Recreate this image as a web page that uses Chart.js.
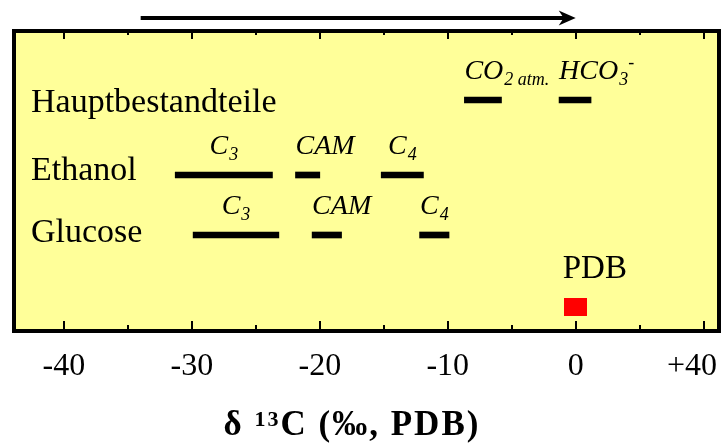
<!DOCTYPE html>
<html>
<head>
<meta charset="utf-8">
<script src="https://cdn.jsdelivr.net/npm/chart.js@4"></script>
<style>
  html, body { margin: 0; padding: 0; background: #fff; }
  #wrap { width: 721px; height: 445px; }
</style>
</head>
<body>
<div id="wrap"><canvas id="c" width="721" height="445"></canvas></div>
<script>
// x axis: delta 13C in permil
const tickValues = [-40, -30, -20, -10, 0, 10];
const tickLabels = ['-40', '-30', '-20', '-10', '0', '+40'];   // last tick is drawn as +40 (axis break)
const xMin = -43.9;
const xMax = 11.2;

// rows
const rowNames = ['Hauptbestandteile', 'Ethanol', 'Glucose'];
const rowLevels = [7.7, 5.2, 3.2];

// ranges (one bar each)
const segRow  = [0, 0, 1, 1, 1, 2, 2, 2];
const segLow  = [-8.7, -1.3, -31.3, -21.9, -15.2, -29.9, -20.6, -12.2];
const segHigh = [-5.8,  1.2, -23.7, -20.0, -11.9, -23.2, -18.3,  -9.9];
// label: [main, subscript, superscript]
const segLabels = [
  ['CO', '2 atm.', ''], ['HCO', '3', '-'],
  ['C', '3', ''], ['CAM', '', ''], ['C', '4', ''],
  ['C', '3', ''], ['CAM', '', ''], ['C', '4', '']
];

// reference standard
const refName = 'PDB';
const refValue = 0;
const refLevel = 0.8;

// arrow above the plot
const arrowFrom = -34;
const arrowTo = 0;

const SERIF = '"Liberation Serif", "Times New Roman", serif';

// red marker as image point style
const marker = document.createElement('canvas');
marker.width = 23; marker.height = 18;
const mctx = marker.getContext('2d');
mctx.fillStyle = '#ff0000';
mctx.fillRect(0, 0, 23, 18);

function richWidth(ctx, parts, big, small, style) {
    ctx.font = style + big + 'px ' + SERIF;
    let w = ctx.measureText(parts[0]).width;
    ctx.font = style + small + 'px ' + SERIF;
    if (parts[1]) w += ctx.measureText(parts[1]).width + 1;
    if (parts[2]) w += ctx.measureText(parts[2]).width;
    return w;
}

function drawRich(ctx, parts, x, y, big, small, style) {
    ctx.textAlign = 'left';
    ctx.textBaseline = 'alphabetic';
    ctx.font = style + big + 'px ' + SERIF;
    ctx.fillText(parts[0], x, y);
    x += ctx.measureText(parts[0]).width;
    ctx.font = style + small + 'px ' + SERIF;
    if (parts[1]) {
        x += 1;
        ctx.fillText(parts[1], x, y + 6);
        x += ctx.measureText(parts[1]).width;
    }
    if (parts[2]) {
        ctx.fillText(parts[2], x, y - 11);
    }
}

const sketchPlugin = {
    id: 'sketch',
    beforeDraw(chart) {
        const { ctx, chartArea: a } = chart;
        ctx.save();
        ctx.fillStyle = '#ffff99';
        ctx.fillRect(a.left, a.top, a.right - a.left, a.bottom - a.top);
        ctx.restore();
    },
    afterDraw(chart) {
        const { ctx, chartArea: a } = chart;
        const xs = chart.scales.x, ys = chart.scales.y;
        ctx.save();

        // frame
        ctx.strokeStyle = '#000';
        ctx.lineWidth = 4;
        ctx.strokeRect(a.left, a.top, a.right - a.left, a.bottom - a.top);

        // inward tick marks, top and bottom
        ctx.lineWidth = 2;
        ctx.beginPath();
        tickValues.forEach((v, i) => {
            const px = Math.round(xs.getPixelForValue(v));
            ctx.moveTo(px, a.bottom); ctx.lineTo(px, a.bottom - 10);
            ctx.moveTo(px, a.top); ctx.lineTo(px, a.top + 8);
            if (i < tickValues.length - 1) {
                const m = Math.round(xs.getPixelForValue((v + tickValues[i + 1]) / 2));
                ctx.moveTo(m, a.bottom); ctx.lineTo(m, a.bottom - 6);
                ctx.moveTo(m, a.top); ctx.lineTo(m, a.top + 4);
            }
        });
        ctx.stroke();

        // tick labels
        ctx.fillStyle = '#000';
        ctx.font = '32px ' + SERIF;
        ctx.textAlign = 'center';
        ctx.textBaseline = 'alphabetic';
        tickLabels.forEach((t, i) => {
            const w = ctx.measureText(t).width;
            let px = xs.getPixelForValue(tickValues[i]);
            px = Math.min(px, chart.width - 4 - w / 2);
            ctx.fillText(t, px, 375);
        });

        // row names
        const nameDy = [12, 5, 7];
        ctx.font = '34px ' + SERIF;
        ctx.textAlign = 'left';
        rowNames.forEach((n, i) => {
            ctx.fillText(n, a.left + 17, ys.getPixelForValue(rowLevels[i]) + nameDy[i]);
        });

        // range labels (C3, CAM, C4, CO2 ...)
        segLabels.forEach((parts, i) => {
            const y = ys.getPixelForValue(rowLevels[segRow[i]]) - 21;
            const x0 = xs.getPixelForValue(segLow[i]);
            const x1 = xs.getPixelForValue(segHigh[i]);
            let x = x0;
            if (parts[0] === 'C') {
                x = (x0 + x1) / 2 - richWidth(ctx, parts, 28, 18, 'italic ') / 2;
            }
            drawRich(ctx, parts, x, y, 28, 18, 'italic ');
        });

        // PDB label
        ctx.font = '33px ' + SERIF;
        ctx.textAlign = 'left';
        ctx.fillText(refName, xs.getPixelForValue(refValue) - 13, ys.getPixelForValue(refLevel) - 29);

        // arrow
        const ax0 = xs.getPixelForValue(arrowFrom), ax1 = xs.getPixelForValue(arrowTo);
        const ay = 18;
        ctx.lineWidth = 4;
        ctx.beginPath();
        ctx.moveTo(ax0, ay); ctx.lineTo(ax1 - 10, ay);
        ctx.stroke();
        ctx.beginPath();
        ctx.moveTo(ax1, ay);
        ctx.lineTo(ax1 - 17, ay - 7.5);
        ctx.lineTo(ax1 - 12, ay);
        ctx.lineTo(ax1 - 17, ay + 7.5);
        ctx.closePath();
        ctx.fill();

        // axis title
        const t1 = '\u03b4 ', t2 = '13', t3 = 'C (\u2030, PDB)';
        ctx.letterSpacing = '2px';
        ctx.font = 'bold 35px ' + SERIF;
        const w1 = ctx.measureText(t1).width, w3 = ctx.measureText(t3).width;
        ctx.font = 'bold 22px ' + SERIF;
        const w2 = ctx.measureText(t2).width;
        let tx = 352 - (w1 + w2 + w3) / 2;
        const ty = 435;
        ctx.font = 'bold 35px ' + SERIF;
        ctx.fillText(t1, tx, ty); tx += w1;
        ctx.font = 'bold 22px ' + SERIF;
        ctx.fillText(t2, tx, ty - 9); tx += w2;
        ctx.font = 'bold 35px ' + SERIF;
        ctx.fillText(t3, tx, ty);
        ctx.letterSpacing = '0px';

        ctx.restore();
    }
};

new Chart(document.getElementById('c'), {
    type: 'bar',
    data: {
        datasets: [
            {
                type: 'bar',
                data: segLow.map((lo, i) => ({ x: [lo, segHigh[i]], y: rowLevels[segRow[i]] })),
                backgroundColor: '#000',
                borderWidth: 0,
                barThickness: 6,
                grouped: false
            },
            {
                type: 'scatter',
                data: [{ x: refValue, y: refLevel }],
                pointStyle: marker,
                pointRadius: 10
            }
        ]
    },
    options: {
        indexAxis: 'y',
        responsive: false,
        animation: false,
        layout: { autoPadding: false, padding: { left: 14, top: 31, right: 2, bottom: 114 } },
        scales: {
            x: { type: 'linear', display: false, offset: false, min: xMin, max: xMax },
            y: { type: 'linear', display: false, offset: false, min: 0, max: 10 }
        },
        plugins: { legend: { display: false }, tooltip: { enabled: false } }
    },
    plugins: [sketchPlugin]
});
</script>
</body>
</html>
